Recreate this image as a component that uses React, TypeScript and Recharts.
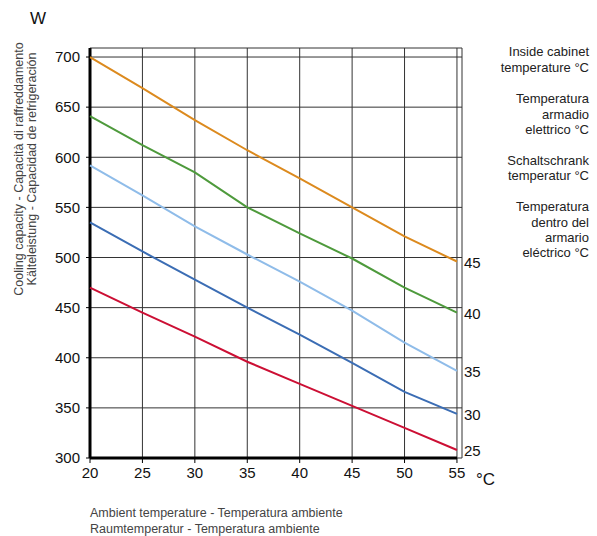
import { LineChart, Line, XAxis, YAxis, CartesianGrid, ReferenceLine, LabelList } from "recharts";

const ambient = [20, 25, 30, 35, 40, 45, 50, 55];
const cap45 = [700, 669, 637, 607, 579, 550, 521, 496];
const cap40 = [641, 612, 585, 550, 524, 499, 470, 445];
const cap35 = [592, 562, 531, 503, 476, 447, 415, 387];
const cap30 = [535, 506, 478, 450, 423, 395, 366, 344];
const cap25 = [470, 445, 421, 396, 374, 352, 330, 308];
const yTicks = [300, 350, 400, 450, 500, 550, 600, 650, 700];

const series = [
  { key: "c45", label: "45", values: cap45, color: "#dc8a1e" },
  { key: "c40", label: "40", values: cap40, color: "#4e9a3c" },
  { key: "c35", label: "35", values: cap35, color: "#8fbce9" },
  { key: "c30", label: "30", values: cap30, color: "#3b6db4" },
  { key: "c25", label: "25", values: cap25, color: "#cc0f34" },
];

const data = ambient.map((t, i) => {
  const row: Record<string, number> = { t };
  series.forEach((s) => (row[s.key] = s.values[i]));
  return row;
});

const font = "'Liberation Sans', Arial, Helvetica, sans-serif";

const legendLines = [
  { text: "Inside cabinet", y: 56 },
  { text: "temperature °C", y: 72 },
  { text: "Temperatura", y: 103 },
  { text: "armadio", y: 119 },
  { text: "elettrico °C", y: 134 },
  { text: "Schaltschrank", y: 165 },
  { text: "temperatur °C", y: 180 },
  { text: "Temperatura", y: 211 },
  { text: "dentro del", y: 227 },
  { text: "armario", y: 242 },
  { text: "eléctrico °C", y: 257 },
];

function EndLabel(props: any) {
  const { x, y, index, value } = props;
  if (index !== ambient.length - 1) return null;
  return (
    <text x={x + 7} y={y + 6} fontSize={15} fill="#111" fontFamily={font}>
      {value}
    </text>
  );
}

export default function App() {
  return (
    <div style={{ position: "absolute", left: 0, top: 0, width: 597, height: 536, background: "#fff" }}>
      <LineChart width={597} height={536} data={data} margin={{ top: 48, right: 135, left: 30, bottom: 48 }}>
        <CartesianGrid stroke="#333" strokeWidth={1} />
        <XAxis
          dataKey="t"
          type="number"
          domain={[20, 55.48]}
          ticks={ambient}
          axisLine={false}
          tickLine={{ stroke: "#000" }}
          tickSize={5}
          height={30}
          tick={{ fontSize: 15, fill: "#111", fontFamily: font }}
          tickMargin={4}
        />
        <YAxis
          type="number"
          domain={[300, 709]}
          ticks={yTicks}
          axisLine={false}
          tickLine={{ stroke: "#000" }}
          tickSize={4}
          width={60}
          tick={{ fontSize: 15, fill: "#111", fontFamily: font }}
          tickMargin={6}
        />
        <ReferenceLine segment={[{ x: 20, y: 300 }, { x: 20, y: 709 }]} stroke="#000" strokeWidth={3} />
        <ReferenceLine segment={[{ x: 20, y: 300 }, { x: 55, y: 300 }]} stroke="#000" strokeWidth={3} />
        {series.map((s) => (
          <Line
            key={s.key}
            dataKey={s.key}
            stroke={s.color}
            strokeWidth={2}
            dot={false}
            type="linear"
            isAnimationActive={false}
          >
            <LabelList dataKey={s.key} content={(p: any) => <EndLabel {...p} value={s.label} />} />
          </Line>
        ))}
        <text x={30} y={24} fontSize={17} fill="#111" fontFamily={font}>W</text>
        <text x={476} y={485} fontSize={17} fill="#111" fontFamily={font}>°C</text>
        <g transform="translate(23,169) rotate(-90)">
          <text x={0} y={0} textAnchor="middle" fontSize={12.5} fill="#444" fontFamily={font}>
            Cooling capacity - Capacità di raffreddamento
          </text>
          <text x={0} y={12.5} textAnchor="middle" fontSize={12.5} fill="#444" fontFamily={font}>
            Kälteleistung - Capacidad de refrigeración
          </text>
        </g>
        <text x={90} y={517} fontSize={12.5} fill="#444" fontFamily={font}>
          Ambient temperature - Temperatura ambiente
        </text>
        <text x={90} y={533} fontSize={12.5} fill="#444" fontFamily={font}>
          Raumtemperatur - Temperatura ambiente
        </text>
        {legendLines.map((l, i) => (
          <text key={i} x={589} y={l.y} textAnchor="end" fontSize={13} fill="#222" fontFamily={font}>
            {l.text}
          </text>
        ))}
      </LineChart>
    </div>
  );
}
